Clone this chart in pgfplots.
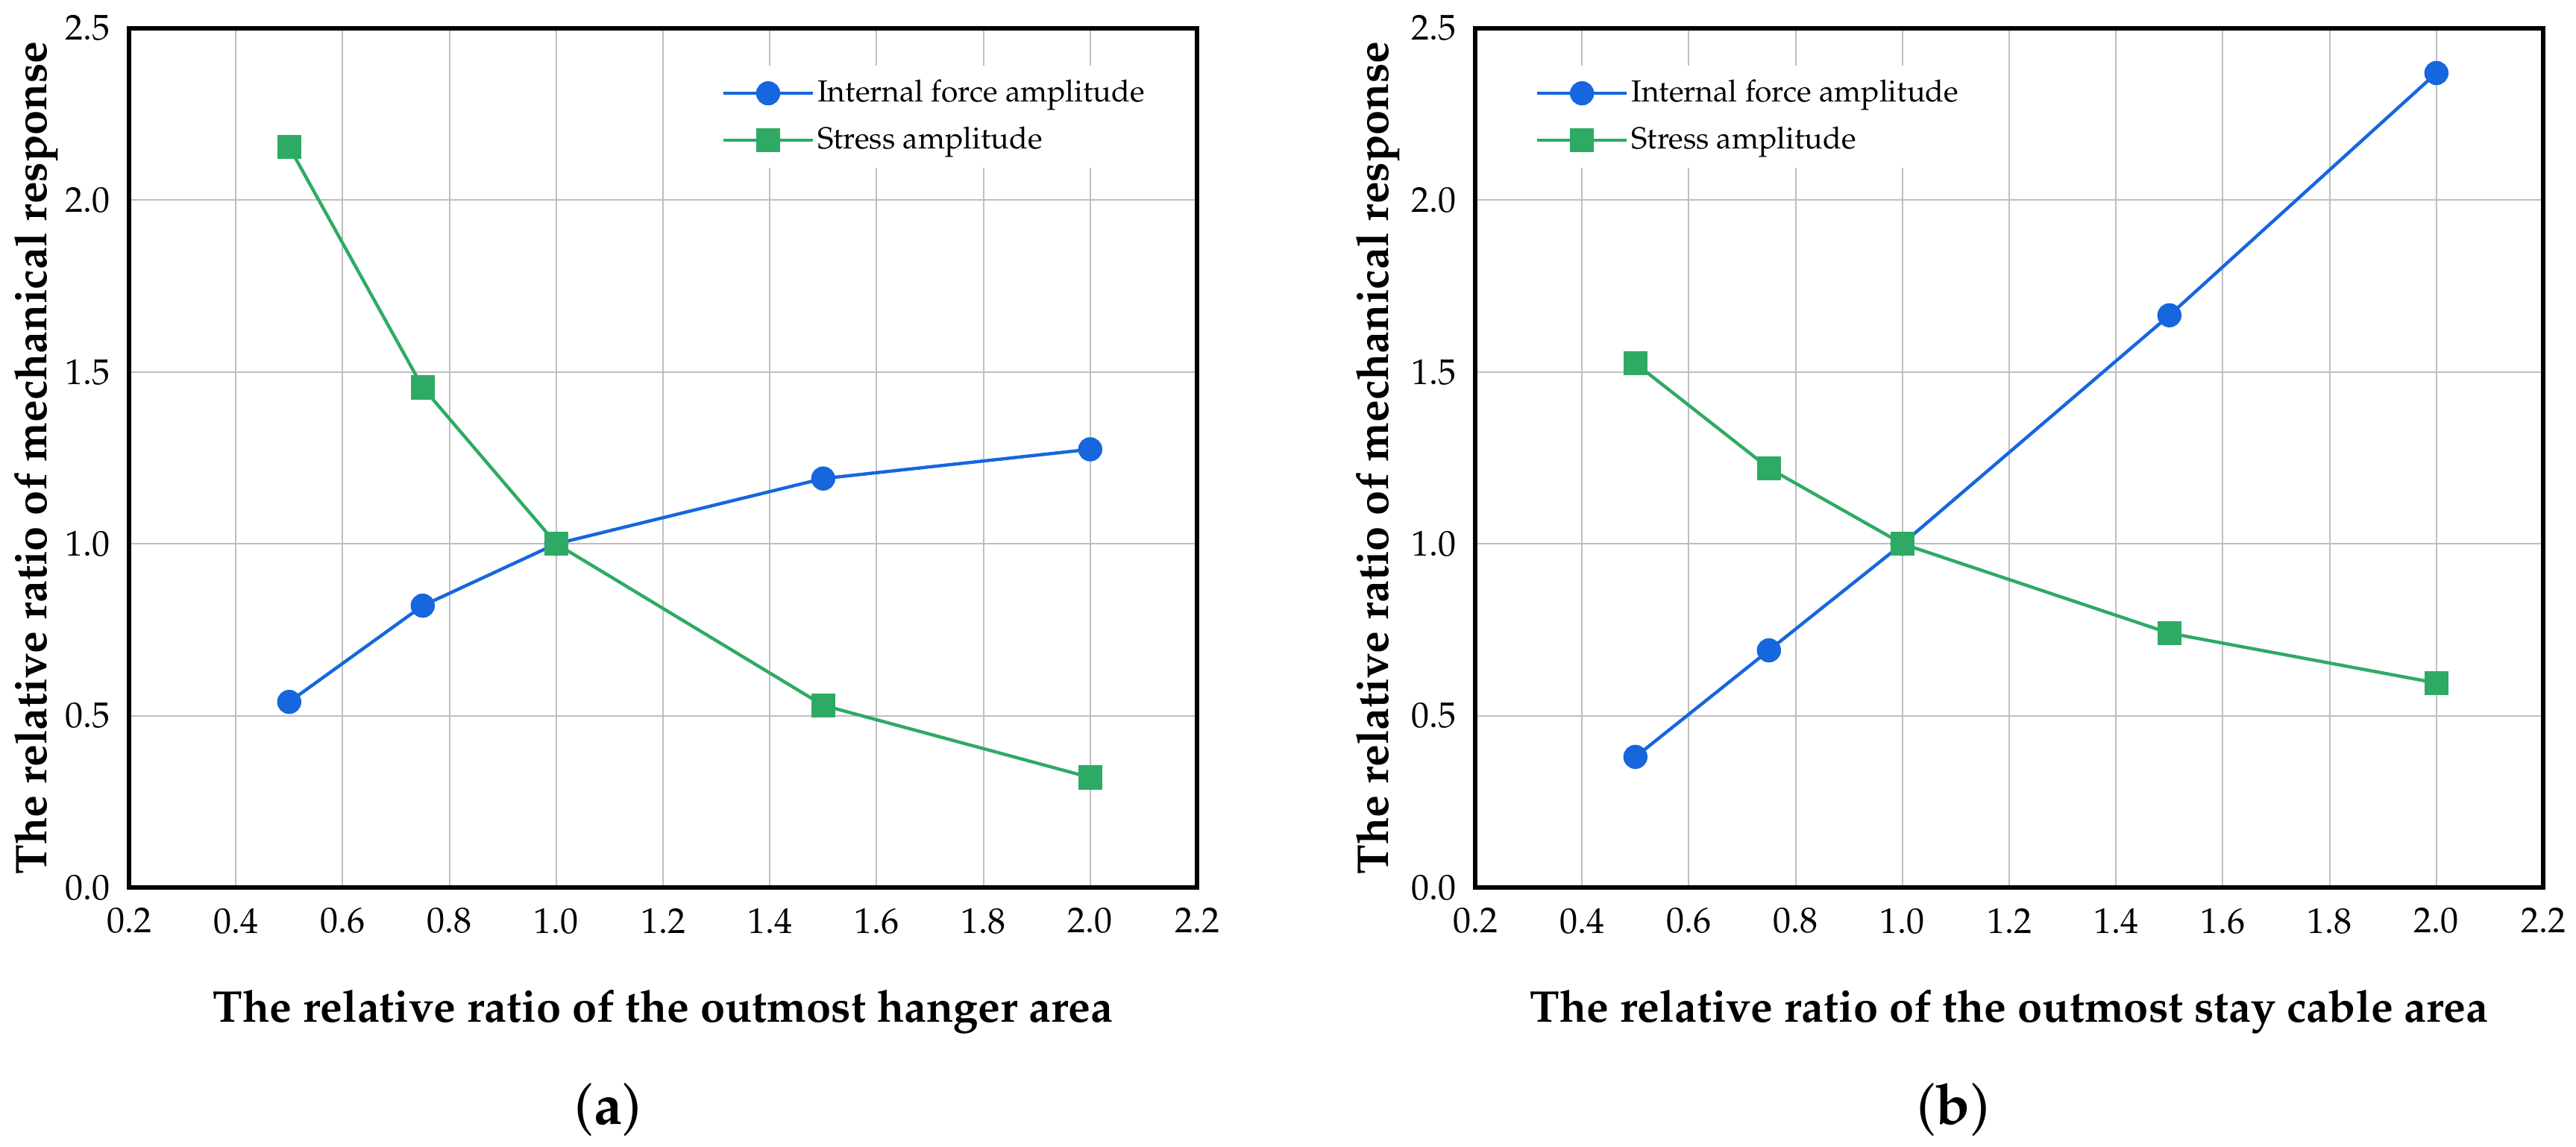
\documentclass[border=0pt]{standalone}
\usepackage[T1]{fontenc}
\usepackage{mathpazo}
\usepackage{pgfplots}
\pgfplotsset{compat=1.18}
\definecolor{cblue}{RGB}{22,102,222}
\definecolor{cgreen}{RGB}{46,170,100}
\pgfplotstableread{
x y
0.5 0.54
0.75 0.82
1.0 1.0
1.5 1.19
2.0 1.275
}\forceA
\pgfplotstableread{
x y
0.5 2.155
0.75 1.455
1.0 1.0
1.5 0.53
2.0 0.32
}\stressA
\pgfplotstableread{
x y
0.5 0.38
0.75 0.69
1.0 1.0
1.5 1.665
2.0 2.37
}\forceB
\pgfplotstableread{
x y
0.5 1.525
0.75 1.22
1.0 1.0
1.5 0.74
2.0 0.595
}\stressB
\pgfplotsset{
  myaxis/.style={
    scale only axis,
    width=358pt, height=288pt,
    xmin=0.2, xmax=2.2, ymin=0, ymax=2.5,
    xtick={0.2,0.4,...,2.21},
    ytick={0,0.5,...,2.51},
    grid=major,
    major grid style={line width=0.5pt, color=black!25},
    tick style={draw=none},
    axis line style={line width=1.3pt},
    every tick label/.append style={font=\fontsize{12}{14}\selectfont},
    /pgf/number format/fixed,
    /pgf/number format/fixed zerofill,
    /pgf/number format/precision=1,
    xticklabel style={inner sep=0pt, anchor=north, yshift=-6.75pt},
    yticklabel style={inner sep=0pt, anchor=east, xshift=-6.25pt},
    label style={font=\fontsize{14.9}{18}\selectfont\bfseries},
    xlabel style={at={(axis description cs:0.5,0)}, anchor=base, yshift=-45pt},
    ylabel style={anchor=base, rotate=0},
    legend cell align=left,
    legend style={draw=none, fill=white, inner xsep=4pt, inner ysep=1.5pt,
      row sep=0pt, font=\fontsize{10.2}{12}\selectfont,
      nodes={inner xsep=1pt, inner ysep=3.4pt}, anchor=north west},
    legend image code/.code={
      \draw[mark repeat=2, mark phase=2] plot coordinates {(0pt,0pt) (15pt,0pt) (30pt,0pt)};
    },
    every axis plot/.append style={line width=1.1pt, mark size=3.5pt},
  }
}
\begin{document}
\begin{tikzpicture}
\path[use as bounding box] (0,0) rectangle (863.5pt,-384.5pt);
\begin{axis}[myaxis, at={(43.25pt,-9.5pt)}, anchor=north west,
  xlabel={The relative ratio of the outmost hanger area},
  ylabel={The relative ratio of mechanical response},
  ylabel style={at={(axis description cs:-0.0775,0.5)}},
  legend style={at={(axis description cs:0.5433,0.9575)}}]
\addplot[color=cblue, mark=*, mark options={fill=cblue, draw=cblue}] table[x=x,y=y] {\forceA};
\addlegendentry{Internal force amplitude}
\addplot[color=cgreen, mark=square*, mark options={fill=cgreen, draw=cgreen}] table[x=x,y=y] {\stressA};
\addlegendentry{Stress amplitude}
\end{axis}
\begin{axis}[myaxis, at={(494.5pt,-9.5pt)}, anchor=north west,
  xlabel={The relative ratio of the outmost stay cable area},
  ylabel={The relative ratio of mechanical response},
  ylabel style={at={(axis description cs:-0.0811,0.5)}},
  legend style={at={(axis description cs:0.0448,0.9575)}}]
\addplot[color=cblue, mark=*, mark options={fill=cblue, draw=cblue}] table[x=x,y=y] {\forceB};
\addlegendentry{Internal force amplitude}
\addplot[color=cgreen, mark=square*, mark options={fill=cgreen, draw=cgreen}] table[x=x,y=y] {\stressB};
\addlegendentry{Stress amplitude}
\end{axis}
\node[font=\fontsize{19}{22}\selectfont, anchor=base] at (203.75pt,-376.75pt) {(\textbf{a})};
\node[font=\fontsize{19}{22}\selectfont, anchor=base] at (654.75pt,-376.75pt) {(\textbf{b})};
\end{tikzpicture}
\end{document}
